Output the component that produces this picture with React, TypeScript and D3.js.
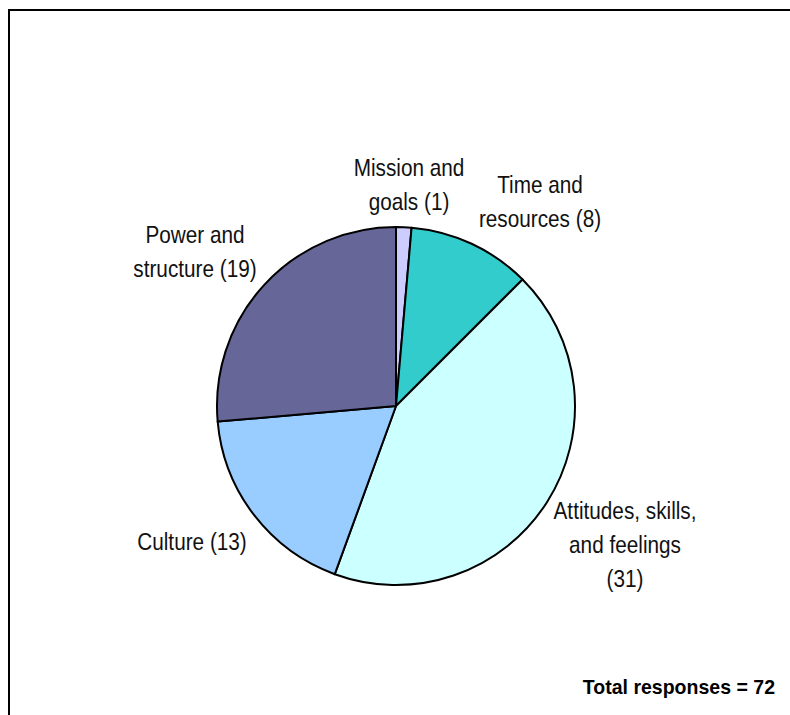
import React from "react";
import * as d3 from "d3";

const categories = ["Mission and goals", "Time and resources", "Attitudes, skills, and feelings", "Culture", "Power and structure"];
const values = [1, 8, 31, 13, 19];
const colors = ["#CCCCFF", "#33CCCC", "#CCFFFF", "#99CCFF", "#666699"];
const labelLines = [
  ["Mission and", "goals (1)"],
  ["Time and", "resources (8)"],
  ["Attitudes, skills,", "and feelings", "(31)"],
  ["Culture (13)"],
  ["Power and", "structure (19)"],
];
const labelPos = [
  [409, 176],
  [540, 193],
  [625, 519],
  [192, 550],
  [195, 243],
];
const totalLabel = "Total responses = 72";

export default function App() {
  const cx = 396, cy = 406, r = 179;
  const pie = d3.pie<number>().sort(null).value((d) => d)(values);
  const arc = d3.arc<d3.PieArcDatum<number>>().innerRadius(0).outerRadius(r);
  const font = "'Liberation Sans', Arial, sans-serif";
  return (
    <svg width={790} height={715} style={{ position: "absolute", left: 0, top: 0, background: "#fff" }}>
      <rect x={9} y={10} width={800} height={720} fill="#fff" stroke="#000" strokeWidth={2} />
      <g transform={`translate(${cx},${cy})`}>
        {pie.map((p, i) => (
          <path key={categories[i]} d={arc(p) || ""} fill={colors[i]} stroke="#000" strokeWidth={2} strokeLinejoin="round" />
        ))}
      </g>
      {labelLines.map((lines, i) => (
        <text key={i} transform={`translate(${labelPos[i][0]},${labelPos[i][1]}) scale(0.865,1)`} textAnchor="middle" fontFamily={font} fontSize={24} fill="#111">
          {lines.map((l, j) => (
            <tspan key={j} x={0} dy={j === 0 ? 0 : 34}>{l}</tspan>
          ))}
        </text>
      ))}
      <text transform="translate(775,694) scale(0.93,1)" textAnchor="end" fontFamily={font} fontSize={21} fontWeight="bold" fill="#000">{totalLabel}</text>
    </svg>
  );
}
